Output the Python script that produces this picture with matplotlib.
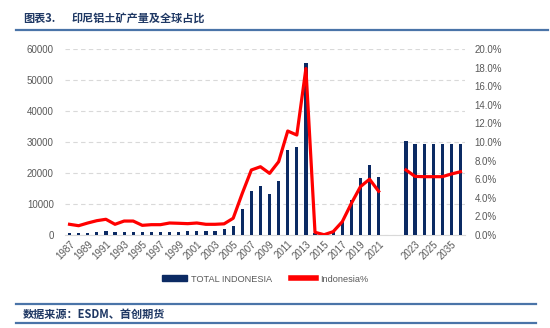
import matplotlib
matplotlib.use("Agg")
import matplotlib.pyplot as plt
from matplotlib.lines import Line2D
from matplotlib.patches import Patch
from matplotlib.ticker import FuncFormatter

plt.rcParams['font.family'] = ['Liberation Sans', 'Noto Sans CJK SC', 'DejaVu Sans']

# categories: 1987-2021, two empty slots, then forecasts
years = [str(y) for y in range(1987, 2022)] + ['', '', '2022', '2023', '2024', '2025', '2030', '2035', '2040']

# production (kt) - TOTAL INDONESIA
production = [700, 550, 800, 1100, 1450, 900, 1100, 1100, 900, 900, 900, 1100,
              1100, 1450, 1450, 1200, 1450, 1800, 2950, 8400, 14300, 15800, 13200,
              17400, 27400, 28400, 55400, 500, 0, 1100, 4300, 11300, 18400, 22700,
              18700, None, None, 30300, 29200, 29200, 29200, 29200, 29200, 29200]

# global share (%)
share = [1.15, 1.0, 1.29, 1.54, 1.69, 1.15, 1.5, 1.5, 1.04, 1.11, 1.11, 1.29,
         1.26, 1.22, 1.29, 1.15, 1.15, 1.2, 1.8, 4.48, 6.99, 7.34, 6.63,
         7.88, 11.18, 10.75, 17.9, 0.29, 0.03, 0.36, 1.43, 3.4, 5.2, 6.0,
         4.7, None, None, 7.0, 6.3, 6.27, 6.27, 6.27, 6.56, 6.8]

navy = '#0B2A63'
red = '#FF0000'
grey = '#595959'

fig = plt.figure(figsize=(5.5, 3.28), dpi=100)
ax = fig.add_axes([65 / 550, 1 - 235 / 328, 400 / 550, 186 / 328])
ax2 = ax.twinx()

x = list(range(len(years)))
bx = [i for i, v in zip(x, production) if v is not None]
bv = [v for v in production if v is not None]
ax.bar(bx, bv, width=0.35, color=navy, zorder=3)

# line in two pieces (gap between 2021 and 2022)
seg1 = [(i, v) for i, v in zip(x, share) if v is not None and i <= 34]
seg2 = [(i, v) for i, v in zip(x, share) if v is not None and i > 34]
for seg in (seg1, seg2):
    ax2.plot([p[0] for p in seg], [p[1] / 100 for p in seg], color=red, lw=2.3,
             solid_joinstyle='round', zorder=4)

ax.set_xlim(-0.5, len(years) - 0.5)
ax.set_ylim(0, 60000)
ax.set_yticks(range(0, 60001, 10000))
ax2.set_ylim(0, 0.2)
ax2.set_yticks([i / 100 for i in range(0, 21, 2)])
ax2.yaxis.set_major_formatter(FuncFormatter(lambda v, p: '%.1f%%' % (v * 100)))

ax.yaxis.grid(True, color='#D9D9D9', ls=(0, (4, 3)), lw=0.8, zorder=0)
ax.set_axisbelow(True)

ax.set_xticks(x[::2])
ax.set_xticklabels(years[::2], rotation=45, ha='right', rotation_mode='anchor')

for a in (ax, ax2):
    for s in a.spines.values():
        s.set_visible(False)
    a.tick_params(length=0, labelsize=7, colors=grey)
ax.spines['bottom'].set_visible(True)
ax.spines['bottom'].set_color('#D9D9D9')
ax.tick_params(axis='y', pad=8)
ax2.tick_params(axis='y', pad=7)
ax.tick_params(axis='x', pad=3)

handles = [Patch(color=navy), Line2D([0], [0], color=red, lw=4)]
fig.legend(handles, ['TOTAL INDONESIA', 'Indonesia%'], loc='center',
           bbox_to_anchor=(265 / 550, 1 - 279 / 328), ncol=2, frameon=False,
           fontsize=6.6, handlelength=2.8, handleheight=0.6, handletextpad=0.4,
           columnspacing=2.0, labelcolor=grey)

# header / footer
line_col = '#4A74A8'
fig.add_artist(Line2D([16 / 550, 548 / 550], [1 - 30 / 328] * 2, color=line_col, lw=1.6))
fig.add_artist(Line2D([16 / 550, 536 / 550], [1 - 304 / 328] * 2, color=line_col, lw=1.6))
fig.add_artist(Line2D([16 / 550, 536 / 550], [1 - 323 / 328] * 2, color=line_col, lw=1.6))
fig.text(23 / 550, 1 - 18 / 328, '图表3.', fontsize=8, color='#1F3864', va='center',
         family=['Noto Sans CJK SC', 'DejaVu Sans'], fontweight='bold')
fig.text(72 / 550, 1 - 18 / 328, '印尼铝土矿产量及全球占比', fontsize=8, color='#1F3864',
         va='center', family=['Noto Sans CJK SC', 'DejaVu Sans'], fontweight='bold')
fig.text(23 / 550, 1 - 314 / 328, '数据来源：ESDM、首创期货', fontsize=8, color='#1F3864',
         va='center', family=['Noto Sans CJK SC', 'DejaVu Sans'], fontweight='bold')

fig.savefig('out.png', dpi=100)
